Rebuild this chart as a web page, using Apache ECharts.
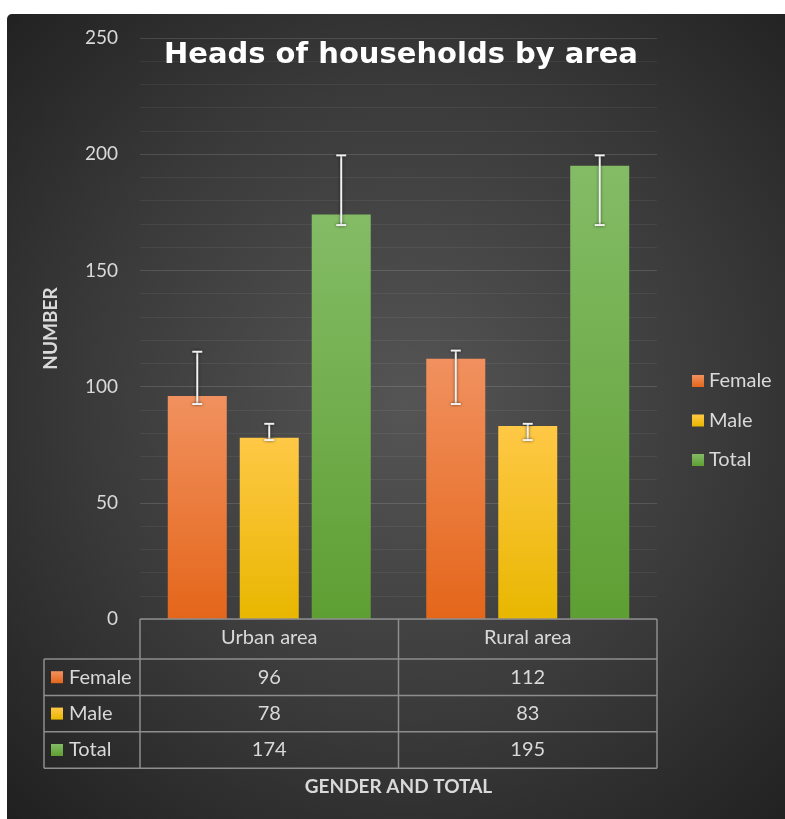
<!DOCTYPE html>
<html>
<head>
<meta charset="utf-8">
<script src="https://cdn.jsdelivr.net/npm/echarts@6/dist/echarts.min.js"></script>
<style>
  html, body { margin: 0; padding: 0; background: #ffffff; }
  #chart { width: 785px; height: 819px; }
</style>
</head>
<body>
<div id="chart"></div>
<script>
// ---- data ----
const categories = ['Urban area', 'Rural area'];
const seriesNames = ['Female', 'Male', 'Total'];
const female = [96, 112];
const male = [78, 83];
const total = [174, 195];
// range (error bar) ends per category
const femaleLow = [92.5, 92.5];
const femaleHigh = [115, 115.5];
const maleLow = [77, 77];
const maleHigh = [84, 84];
const totalLow = [169.5, 169.5];
const totalHigh = [199.5, 199.5];
const yTicks = [0, 50, 100, 150, 200, 250];

// ---- style ----
const FONT = 'Lato';
const TEXT = '#d9d9d9';
const BAR_W = 59;
const BAR_GAP = 0.22;
const gradients = [
  ['#f1915f', '#e4661a'],
  ['#ffc846', '#e8b700'],
  ['#84bc66', '#5e9f33']
];
const values = [female, male, total];
const lows = [femaleLow, maleLow, totalLow];
const highs = [femaleHigh, maleHigh, totalHigh];

function grad(c) {
  return new echarts.graphic.LinearGradient(0, 0, 0, 1, [
    { offset: 0, color: c[0] }, { offset: 1, color: c[1] }
  ]);
}

const chart = echarts.init(document.getElementById('chart'), null, { renderer: 'canvas' });

const barSeries = seriesNames.map((name, i) => ({
  name: name,
  type: 'bar',
  data: values[i],
  barWidth: BAR_W,
  barGap: (BAR_GAP * 100) + '%',
  itemStyle: {
    color: grad(gradients[i]),
    shadowBlur: 7,
    shadowColor: 'rgba(0,0,0,0.55)',
    shadowOffsetX: 2,
    shadowOffsetY: 1
  },
  z: 3
}));

function rangeRenderer(idx) {
  return function (params, api) {
    const c = api.value(0);
    const lo = api.coord([c, api.value(1)]);
    const hi = api.coord([c, api.value(2)]);
    const x = lo[0] + (idx - 1) * BAR_W * (1 + BAR_GAP);
    const cap = 5;
    const style = {
      stroke: '#f2f2f2', lineWidth: 2,
      shadowBlur: 3, shadowColor: 'rgba(0,0,0,0.6)'
    };
    return {
      type: 'group',
      children: [
        { type: 'line', shape: { x1: x, y1: lo[1], x2: x, y2: hi[1] }, style: style },
        { type: 'line', shape: { x1: x - cap, y1: lo[1], x2: x + cap, y2: lo[1] }, style: style },
        { type: 'line', shape: { x1: x - cap, y1: hi[1], x2: x + cap, y2: hi[1] }, style: style }
      ]
    };
  };
}

const rangeSeries = seriesNames.map((name, i) => ({
  name: name + ' range',
  type: 'custom',
  renderItem: rangeRenderer(i),
  data: categories.map((c, k) => [k, lows[i][k], highs[i][k]]),
  encode: { x: 0, y: [1, 2] },
  z: 5,
  silent: true
}));

const option = {
  animation: false,
  title: {
    text: 'Heads of households by area',
    left: 159,
    top: 36,
    textStyle: { color: '#ffffff', fontFamily: 'DejaVu Sans', fontWeight: 'bold', fontSize: 29 }
  },
  legend: {
    data: seriesNames,
    orient: 'vertical',
    left: 687,
    top: 366,
    icon: 'rect',
    itemWidth: 12,
    itemHeight: 12,
    itemGap: 19.5,
    textStyle: { color: TEXT, fontFamily: FONT, fontSize: 20 }
  },
  grid: { left: 140, right: 128, top: 38, bottom: 200 },
  xAxis: {
    type: 'category',
    data: categories,
    name: 'GENDER AND TOTAL',
    nameLocation: 'middle',
    nameGap: 158,
    nameTextStyle: { color: TEXT, fontFamily: FONT, fontWeight: 'bold', fontSize: 19 },
    axisLine: { show: false },
    axisTick: { show: false },
    axisLabel: { color: TEXT, fontFamily: FONT, fontSize: 20, margin: 9 }
  },
  yAxis: {
    type: 'value',
    min: yTicks[0],
    max: yTicks[yTicks.length - 1],
    interval: yTicks[1] - yTicks[0],
    name: 'NUMBER',
    nameLocation: 'middle',
    nameGap: 80,
    nameRotate: 90,
    nameTextStyle: { color: TEXT, fontFamily: FONT, fontWeight: 'bold', fontSize: 19 },
    axisLine: { show: false },
    axisTick: { show: false },
    axisLabel: { color: TEXT, fontFamily: FONT, fontSize: 19, margin: 22 },
    splitLine: { lineStyle: { color: 'rgba(255,255,255,0.13)', width: 1 } },
    minorTick: { show: false, splitNumber: 5 },
    minorSplitLine: { show: true, lineStyle: { color: 'rgba(255,255,255,0.06)', width: 1 } }
  },
  series: barSeries.concat(rangeSeries)
};

chart.setOption(option);

// ---- background panel and data table under the plot ----
function buildGraphics() {
  const rect = chart.getModel().getComponent('grid').coordinateSystem.getRect();
  const left = rect.x, right = rect.x + rect.width, base = rect.y + rect.height;
  const tableLeft = 44;
  const headerH = 40;
  const rowH = 36.4;
  const lineColor = '#8e8e8e';
  const els = [];

  els.push({
    type: 'rect', z: -100, silent: true,
    shape: { x: 7, y: 14, width: 800, height: 830, r: [5, 0, 0, 0] },
    style: {
      fill: {
        type: 'radial', x: 0.5, y: 0.47, r: 0.72,
        colorStops: [
          { offset: 0, color: '#555555' },
          { offset: 0.55, color: '#3a3a3a' },
          { offset: 1, color: '#202020' }
        ]
      }
    }
  });

  const line = (x1, y1, x2, y2) => els.push({
    type: 'line', z: 10, silent: true,
    shape: { x1: x1, y1: y1, x2: x2, y2: y2 },
    style: { stroke: lineColor, lineWidth: 1.5 }
  });

  const rowTop = base + headerH;
  const bottom = rowTop + rowH * seriesNames.length;
  line(left, base, right, base);
  for (let r = 0; r <= seriesNames.length; r++) {
    line(tableLeft, rowTop + r * rowH, right, rowTop + r * rowH);
  }
  line(tableLeft, rowTop, tableLeft, bottom);
  for (let k = 0; k <= categories.length; k++) {
    const x = left + rect.width * k / categories.length;
    line(x, base, x, bottom);
  }

  seriesNames.forEach((name, i) => {
    const cy = rowTop + rowH * (i + 0.5);
    els.push({
      type: 'rect', z: 10, silent: true,
      shape: { x: 51, y: cy - 6, width: 12, height: 12 },
      style: { fill: grad(gradients[i]) }
    });
    els.push({
      type: 'text', z: 10, silent: true,
      x: 69, y: cy,
      style: { text: name, fill: TEXT, font: '20px ' + FONT, verticalAlign: 'middle', align: 'left' }
    });
    categories.forEach((c, k) => {
      const cx = chart.convertToPixel({ xAxisIndex: 0 }, c);
      els.push({
        type: 'text', z: 10, silent: true,
        x: cx, y: cy,
        style: { text: String(values[i][k]), fill: TEXT, font: '20px ' + FONT, verticalAlign: 'middle', align: 'center' }
      });
    });
  });

  chart.setOption({ graphic: { elements: els } });
}
buildGraphics();
</script>
</body>
</html>
